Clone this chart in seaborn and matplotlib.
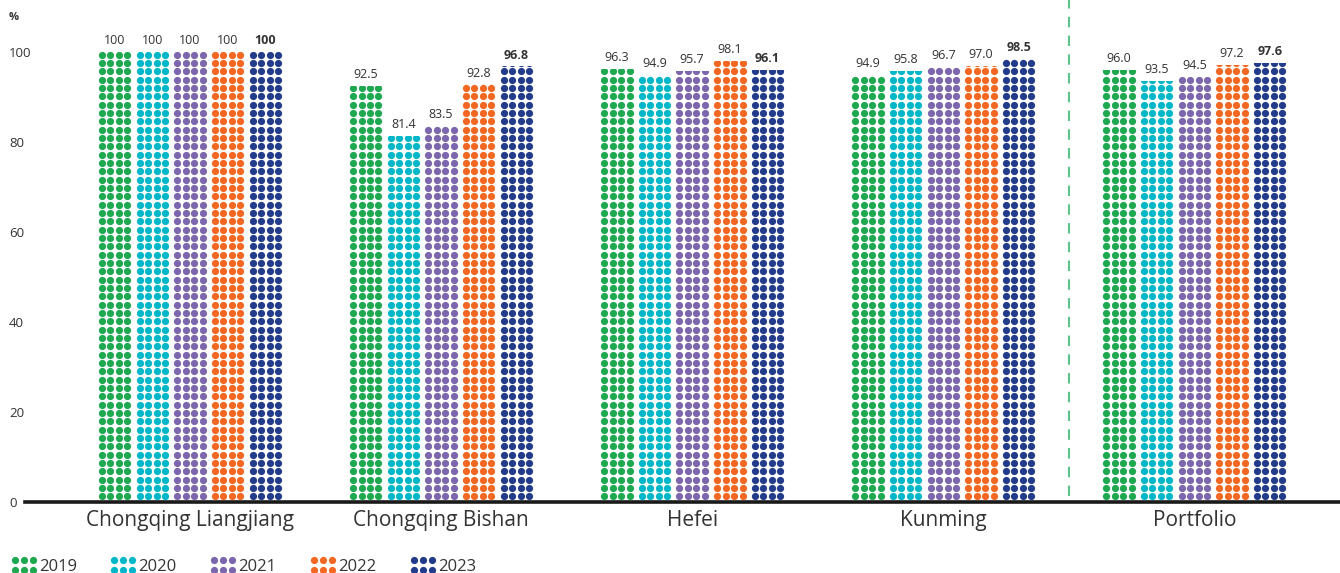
import numpy as np
import pandas as pd
import matplotlib
matplotlib.use("Agg")
import matplotlib.pyplot as plt
from matplotlib.legend_handler import HandlerBase
from matplotlib.lines import Line2D
import seaborn as sns

sites = ["Chongqing Liangjiang", "Chongqing Bishan", "Hefei", "Kunming", "Portfolio"]
years = ["2019", "2020", "2021", "2022", "2023"]
rate_2019 = [100, 92.5, 96.3, 94.9, 96.0]
rate_2020 = [100, 81.4, 94.9, 95.8, 93.5]
rate_2021 = [100, 83.5, 95.7, 96.7, 94.5]
rate_2022 = [100, 92.8, 98.1, 97.0, 97.2]
rate_2023 = [100, 96.8, 96.1, 98.5, 97.6]
year_colors = ["#1EA84F", "#00B7C9", "#7C66AE", "#F26822", "#233B8B"]
y_ticks = [0, 20, 40, 60, 80, 100]

series = [rate_2019, rate_2020, rate_2021, rate_2022, rate_2023]
df = pd.DataFrame(
    [(s, y, v) for y, vals in zip(years, series) for s, v in zip(sites, vals)],
    columns=["site", "year", "rate"],
)

sns.set_style("white")
plt.rcParams["font.family"] = ["Open Sans", "DejaVu Sans"]
text_color = "#333333"

W, H = 1340, 573
fig = plt.figure(figsize=(W / 100, H / 100), dpi=100)
y_top = 105
px_per_unit = 4.5
ax_bottom_px = 502
ax = fig.add_axes([25 / W, (H - ax_bottom_px) / H, 1 - 25 / W, y_top * px_per_unit / H])

sns.barplot(data=df, x="site", y="rate", hue="year", hue_order=years,
            palette=year_colors, width=0.75, gap=0.1, saturation=1,
            legend=False, ax=ax)

ax.set_xlim(-0.657, 4.58)
ax.set_ylim(0, y_top)

# Fill each bar with a grid of dots, clipped to the bar outline
pitch = 8.33 / px_per_unit      # row spacing in data units
row0 = 1.27                      # centre of the lowest row
for yi, container in enumerate(ax.containers):
    for bar in container.patches:
        bar.set_facecolor("none")
        bar.set_edgecolor("none")
        x0, w, h = bar.get_x(), bar.get_width(), bar.get_height()
        nrows = int(np.ceil((h - row0) / pitch)) + 2
        xs = x0 + (np.arange(4) + 0.5) * w / 4
        ys = row0 + np.arange(nrows) * pitch
        gx, gy = np.meshgrid(xs, ys)
        sc = ax.scatter(gx.ravel(), gy.ravel(), s=27, color=year_colors[yi],
                        linewidths=0, zorder=3)
        sc.set_clip_path(bar)

# Value labels
for yi, container in enumerate(ax.containers):
    for bar, v in zip(container.patches, series[yi]):
        label = "100" if v == 100 else f"{v:.1f}"
        ax.annotate(label, (bar.get_x() + bar.get_width() / 2, v),
                    xytext=(0, 3.5), textcoords="offset points",
                    ha="center", va="bottom", fontsize=9, color=text_color,
                    fontweight="bold" if yi == len(years) - 1 else "normal")

# Axes styling
for side in ["left", "right", "top"]:
    ax.spines[side].set_visible(False)
ax.spines["bottom"].set_linewidth(2.6)
ax.spines["bottom"].set_color("#1a1a1a")
ax.set_yticks(y_ticks)
ax.set_yticklabels([str(t) for t in y_ticks], ha="left")
ax.tick_params(axis="y", length=0, pad=11.5, labelsize=9.5, labelcolor=text_color)
ax.tick_params(axis="x", length=0, pad=6, labelsize=15, labelcolor=text_color)
ax.set_xlabel("")
ax.set_ylabel("")
ax.grid(False)

# Separator between sites and the portfolio total
ax.axvline(3.5, ymin=0.012, ymax=502 / (y_top * px_per_unit), color="#5CC48A",
           linestyle=(0, (5, 4)), linewidth=1.5, clip_on=False)

fig.text(14 / W, 1 - 18 / H, "%", fontsize=8, fontweight="bold",
         color=text_color, ha="center", va="center")


class DotHandler(HandlerBase):
    def create_artists(self, legend, orig_handle, xdescent, ydescent,
                       width, height, fontsize, trans):
        xs = np.array([1 / 6, 3 / 6, 5 / 6]) * width - xdescent
        ys = np.array([0.1, 0.9]) * height - ydescent
        gx, gy = np.meshgrid(xs, ys)
        dots = Line2D(gx.ravel(), gy.ravel(), linestyle="none", marker="o",
                      markersize=5.2, markeredgewidth=0,
                      color=orig_handle.get_color(), transform=trans)
        return [dots]


handles = [Line2D([], [], color=c) for c in year_colors]
fig.legend(handles, years, handler_map={Line2D: DotHandler()},
           loc="lower left", bbox_to_anchor=(0.0015, -0.018), ncol=5,
           frameon=False, fontsize=12, handlelength=1.6, handleheight=0.7,
           handletextpad=0.1, columnspacing=2.0, borderpad=0,
           labelcolor=text_color)

fig.savefig("out.png", dpi=100)
